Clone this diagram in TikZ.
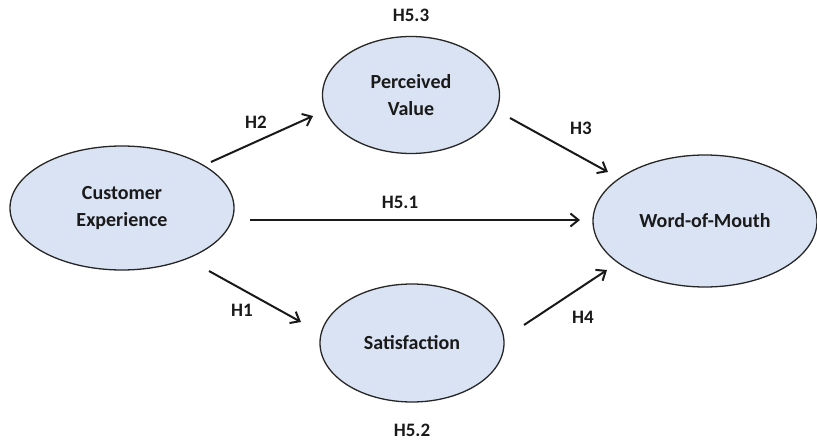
\documentclass[tikz,border=0pt]{standalone}
\usepackage{fontspec}
\setmainfont{Carlito}
\usetikzlibrary{shapes.geometric,arrows.meta}
\definecolor{ellfill}{HTML}{DAE3F3}
\definecolor{txt}{HTML}{1A1A1A}
\begin{document}
\begin{tikzpicture}[x=1pt,y=-1pt,
  construct/.style={ellipse,draw=black!85,line width=1.3pt,fill=ellfill,inner sep=0pt,
    font=\fontsize{20}{27}\selectfont\bfseries,text=txt,align=center},
  hyp/.style={font=\fontsize{19}{23}\selectfont\bfseries,text=txt},
  path/.style={line width=2pt,black!90,-{Straight Barb[length=8pt,width=13pt,line width=2pt]}}]
\useasboundingbox (0,0) rectangle (817,441);
\node[construct,minimum width=224pt,minimum height=124pt] (ce) at (122,208) {Customer\\Experience};
\node[construct,minimum width=177pt,minimum height=117pt] (pv) at (411,95) {Perceived\\Value};
\node[construct,minimum width=184pt,minimum height=118pt] (sa) at (412,343) {Satisfaction};
\node[construct,minimum width=224pt,minimum height=132pt] (wm) at (705,221) {Word-of-Mouth};
\coordinate (a1) at (211,162); \coordinate (a2) at (313,116);
\coordinate (b1) at (510,118); \coordinate (b2) at (608,172);
\coordinate (c1) at (250,220); \coordinate (c2) at (580,220);
\coordinate (d1) at (209,271); \coordinate (d2) at (301,322);
\coordinate (e1) at (524,325); \coordinate (e2) at (607,270);
\draw[path] (a1) -- (a2);
\draw[path] (b1) -- (b2);
\draw[path] (c1) -- (c2);
\draw[path] (d1) -- (d2);
\draw[path] (e1) -- (e2);
\node[hyp] (h2) at (256,122) {H2};
\node[hyp] (h3) at (581,128) {H3};
\node[hyp] (h51) at (400,202) {H5.1};
\node[hyp] (h1) at (242,310) {H1};
\node[hyp] (h4) at (583,317) {H4};
\node[hyp,anchor=base] (h53) at (411,22) {H5.3};
\node[hyp,anchor=base] (h52) at (412,436) {H5.2};
\end{tikzpicture}
\end{document}
